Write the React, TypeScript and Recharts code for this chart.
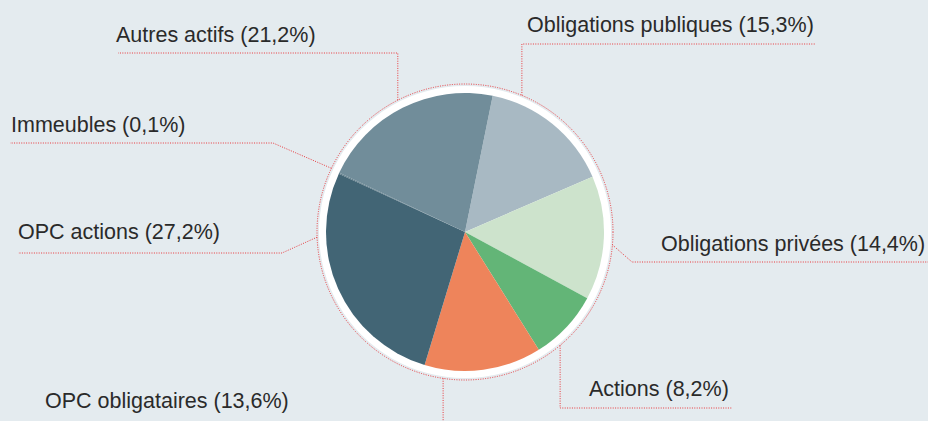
import { PieChart, Pie, Cell } from 'recharts'

// slices, clockwise from the top
const categories = [
  'Obligations publiques',
  'Obligations privées',
  'Actions',
  'OPC obligataires',
  'OPC actions',
  'Immeubles',
  'Autres actifs',
]
const shares = [15.3, 14.4, 8.2, 13.6, 27.2, 0.1, 21.2]
const colors = ['#a8b9c3', '#cde3cc', '#63b577', '#ee845b', '#426575', '#587785', '#718d9a']

// leader line layout, offsets from the pie centre
// anchor = degrees clockwise from north where the line leaves the dotted ring
const labelLayout = [
  { anchor: 22.6, vertical: true, elbow: [0, -188], endX: 351, text: [62, -200] },
  { anchor: 95, vertical: false, elbow: [167, 30], endX: 463, text: [196, 19] },
  { anchor: 140, vertical: true, elbow: [0, 176], endX: 267, text: [124, 164] },
  { anchor: 188.5, vertical: true, elbow: [0, 200], endX: null, text: [-420, 176] },
  { anchor: 268, vertical: false, elbow: [-183, 21], endX: -447, text: [-447, 7] },
  { anchor: 295.5, vertical: false, elbow: [-192, -89], endX: -455, text: [-454, -100] },
  { anchor: 333, vertical: true, elbow: [0, -179], endX: -347, text: [-349, -190] },
]

const RED = '#e8383c'
const RING = 148

const chartData = categories.map((name, i) => ({ name, value: shares[i] }))

const fmt = (v: number) => `${v.toFixed(1).replace('.', ',')}%`

const renderLabel = (props: any) => {
  const { cx, cy, index, name, value } = props
  const l = labelLayout[index]
  const rad = (l.anchor * Math.PI) / 180
  const sx = cx + RING * Math.sin(rad)
  const sy = cy - RING * Math.cos(rad)
  const ex = l.vertical ? sx : cx + l.elbow[0]
  const ey = cy + l.elbow[1]
  let pts = `${sx},${sy} ${ex},${ey}`
  if (l.endX !== null) pts += ` ${cx + l.endX},${ey}`
  return (
    <g key={`lbl-${index}`}>
      <polyline points={pts} fill="none" stroke={RED} strokeWidth={1} strokeDasharray="1 1.4" />
      <text
        x={cx + l.text[0]}
        y={cy + l.text[1]}
        fill="#2a2a2a"
        fontSize={21.5}
        fontFamily="'Liberation Sans', Arial, sans-serif"
        textAnchor="start"
      >
        {`${name} (${fmt(value)})`}
      </text>
    </g>
  )
}

// dotted circle around the white ring
const renderRing = (props: any) => (
  <circle
    key="ring-dots"
    cx={props.cx}
    cy={props.cy}
    r={RING}
    fill="none"
    stroke={RED}
    strokeWidth={1}
    strokeDasharray="1 1.4"
  />
)

export default function App() {
  return (
    <div style={{ position: 'absolute', left: 0, top: 0, width: 928, height: 421, background: '#e4ebef', overflow: 'hidden' }}>
      <PieChart width={928} height={421} margin={{ top: 0, right: 0, bottom: 0, left: 0 }}>
        <Pie
          data={[{ name: 'ring', value: 1 }]}
          dataKey="value"
          cx={465}
          cy={232}
          outerRadius={146}
          fill="#ffffff"
          stroke="none"
          label={renderRing}
          labelLine={false}
          isAnimationActive={false}
        />
        <Pie
          data={chartData}
          dataKey="value"
          nameKey="name"
          cx={465}
          cy={232}
          outerRadius={139}
          startAngle={78.5}
          endAngle={-281.5}
          stroke="none"
          label={renderLabel}
          labelLine={false}
          isAnimationActive={false}
        >
          {chartData.map((d, i) => (
            <Cell key={d.name} fill={colors[i]} />
          ))}
        </Pie>
      </PieChart>
    </div>
  )
}
